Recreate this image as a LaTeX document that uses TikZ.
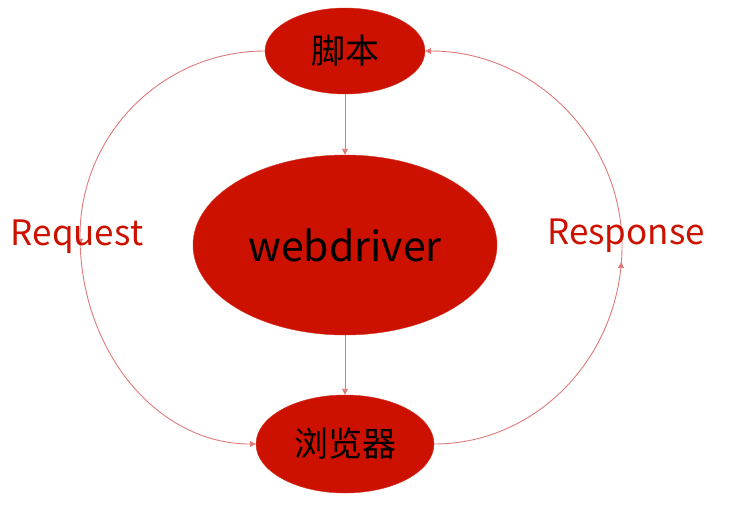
\documentclass[tikz,border=0pt]{standalone}
\usepackage{fontspec}
\setmainfont{Noto Sans CJK SC}
\usepackage{xcolor}
\usepackage{tikz}
\usetikzlibrary{arrows.meta,shapes.geometric,decorations.markings}
\definecolor{wdred}{HTML}{CC1100}
\definecolor{wdline}{HTML}{E07A7A}
\tikzset{
  wdnode/.style  = {ellipse, draw=wdred!85, fill=wdred, text=black, inner sep=0pt},
  wdflow/.style  = {-{Triangle[length=6pt,width=6pt]}, draw=wdline, line width=0.9pt},
  wdmid/.style   = {postaction={decorate}, decoration={markings,
                    mark=at position #1 with {\arrow{Triangle[length=6pt,width=6pt]}}}},
  wdlbl/.style   = {text=wdred, font=\fontsize{35}{36}\selectfont, inner sep=0pt},
}

\begin{document}
\begin{tikzpicture}[x=1pt,y=-1pt]
  \useasboundingbox (0,0) rectangle (729,504);
  \node[wdnode, minimum width=160pt, minimum height=86pt,
        font=\fontsize{34}{35}\selectfont]  (script)  at (345,51)  {脚本};
  \node[wdnode, minimum width=304pt, minimum height=180pt,
        font=\fontsize{41}{42}\selectfont]  (driver)  at (345,245) {webdriver};
  \node[wdnode, minimum width=178pt, minimum height=98pt,
        font=\fontsize{34}{35}\selectfont]  (browser) at (345,444) {浏览器};

  \coordinate (lbend) at (80,236);
  \coordinate (rbend) at (622,246);

  \draw[wdflow] (script) -- (driver);
  \draw[wdflow] (driver) -- (browser);
  \draw[wdflow, wdmid=0.505] (script.west) .. controls (163,51) and (80,134) .. (lbend)
        .. controls (80,351) and (157,444) .. (browser.west);
  \draw[wdflow, wdmid=0.47] (browser.east) .. controls (537,444) and (622,356) .. (rbend)
        .. controls (622,139) and (534,51) .. (script.east);

  \node[wdlbl] (req)  at (77,237)  {Request};
  \node[wdlbl] (resp) at (626,236) {Response};
\end{tikzpicture}
\end{document}
